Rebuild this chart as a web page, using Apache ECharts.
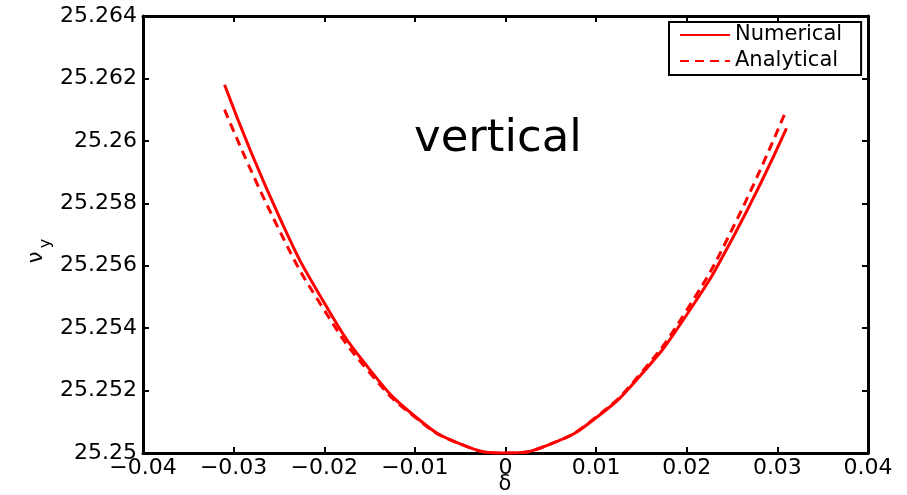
<!DOCTYPE html>
<html>
<head>
<meta charset="utf-8">
<script src="https://cdn.jsdelivr.net/npm/echarts@6/dist/echarts.min.js"></script>
<style>
  html, body { margin: 0; padding: 0; background: #fff; overflow: hidden; }
  #chart { width: 907px; height: 495px; }
</style>
</head>
<body>
<div id="chart"></div>
<script>
// detuning offset δ
const deltaValues = [-0.031, -0.025, -0.02, -0.015, -0.01, -0.005, 0, 0.005, 0.01, 0.015, 0.02, 0.025, 0.031];
// vertical tune ν_y, tracked numerically
const numericalTune = [25.2618, 25.25759, 25.25481, 25.25268, 25.25118, 25.25029, 25.25, 25.25029, 25.25113, 25.25252, 25.25443, 25.25685, 25.2604];
// vertical tune ν_y, analytical estimate
const analyticalTune = [25.2610, 25.25716, 25.25458, 25.25258, 25.25115, 25.25029, 25.25, 25.25029, 25.25115, 25.25258, 25.25458, 25.25716, 25.2610];
const xTicks = [-0.04, -0.03, -0.02, -0.01, 0, 0.01, 0.02, 0.03, 0.04];
const yTicks = [25.25, 25.252, 25.254, 25.256, 25.258, 25.26, 25.262, 25.264];

const pairs = (xs, ys) => xs.map((x, i) => [x, ys[i]]);
const fmtX = v => (v < 0 ? '\u2212' : '') + String(Math.abs(+v.toFixed(2)));
const fmtY = v => String(+v.toFixed(3));

const FONT = 'DejaVu Sans';
const axisLine = { show: true, onZero: false, lineStyle: { color: '#000', width: 3 } };
const tick = { show: true, inside: true, length: 6, lineStyle: { color: '#000', width: 2 } };

const chart = echarts.init(document.getElementById('chart'), null, { renderer: 'canvas', width: 907, height: 495 });
chart.setOption({
  animation: false,
  backgroundColor: '#fff',
  grid: { left: 143, top: 16, right: 39, bottom: 42, containLabel: false, outerBoundsMode: 'none' },
  xAxis: [
    {
      type: 'value', min: xTicks[0], max: xTicks[xTicks.length - 1], interval: 0.01, position: 'bottom',
      axisLine, axisTick: tick, splitLine: { show: false },
      axisLabel: { color: '#000', fontFamily: FONT, fontSize: 22, margin: 4, formatter: fmtX }
    },
    {
      type: 'value', min: xTicks[0], max: xTicks[xTicks.length - 1], interval: 0.01, position: 'top',
      axisLine, axisTick: tick, axisLabel: { show: false }, splitLine: { show: false }
    }
  ],
  yAxis: [
    {
      type: 'value', min: yTicks[0], max: yTicks[yTicks.length - 1], interval: 0.002, position: 'left',
      axisLine, axisTick: tick, splitLine: { show: false },
      axisLabel: { color: '#000', fontFamily: FONT, fontSize: 22, margin: 6, formatter: fmtY }
    },
    {
      type: 'value', min: yTicks[0], max: yTicks[yTicks.length - 1], interval: 0.002, position: 'right',
      axisLine, axisTick: tick, axisLabel: { show: false }, splitLine: { show: false }
    }
  ],
  legend: {
    orient: 'vertical', left: 669, top: 22,
    padding: [2, 19, 3, 10], itemGap: 4, itemWidth: 50, itemHeight: 22,
    borderColor: '#000', borderWidth: 2, backgroundColor: '#fff',
    itemStyle: { opacity: 0 },
    textStyle: { color: '#000', fontFamily: FONT, fontSize: 21, lineHeight: 22 },
    data: ['Numerical', 'Analytical']
  },
  graphic: [
    {
      type: 'text', left: 414, top: 117,
      style: { text: 'vertical', font: '45px "DejaVu Sans"', fill: '#000' }
    },
    // x-axis title δ
    {
      type: 'text', x: 505, y: 485,
      style: { text: 'δ', font: '21px "DejaVu Sans"', fill: '#000', align: 'center', verticalAlign: 'middle' }
    },
    // y-axis title ν_y, written bottom to top
    {
      type: 'text', x: 40, y: 251, rotation: Math.PI / 2,
      style: {
        text: '{n|ν} {s|y}', fill: '#000', align: 'center', verticalAlign: 'middle',
        rich: {
          n: { fontFamily: FONT, fontSize: 21, fill: '#000', lineHeight: 21, verticalAlign: 'top' },
          s: { fontFamily: FONT, fontSize: 16, fill: '#000', lineHeight: 28, verticalAlign: 'bottom' }
        }
      }
    }
  ],
  series: [
    {
      name: 'Numerical', type: 'line', smooth: true, symbol: 'none', showSymbol: false,
      data: pairs(deltaValues, numericalTune),
      lineStyle: { color: '#ff0000', width: 3, type: 'solid' },
      itemStyle: { color: '#ff0000' }
    },
    {
      name: 'Analytical', type: 'line', smooth: true, symbol: 'none', showSymbol: false,
      data: pairs(deltaValues, analyticalTune),
      lineStyle: { color: '#ff0000', width: 3, type: [9, 6] },
      itemStyle: { color: '#ff0000' }
    }
  ]
});
</script>
</body>
</html>
